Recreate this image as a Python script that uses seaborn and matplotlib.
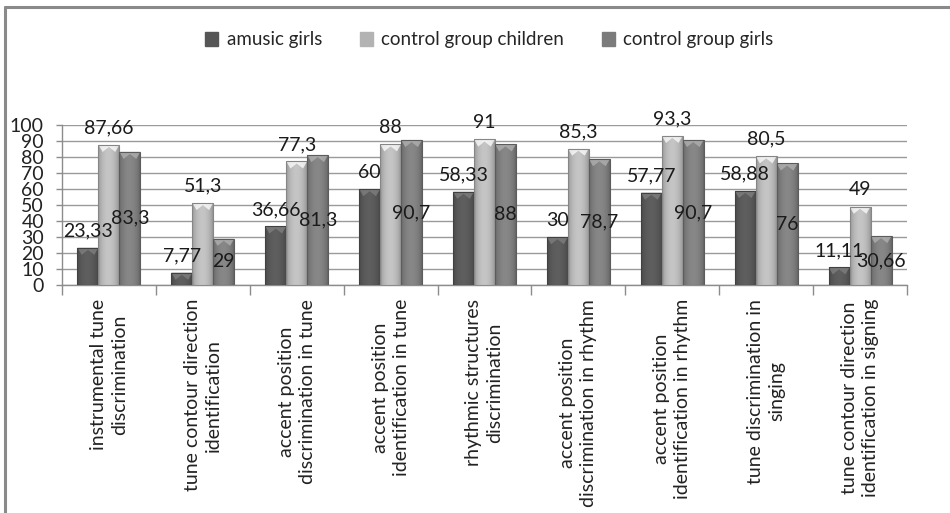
import numpy as np
import pandas as pd
import matplotlib
matplotlib.use("Agg")
import matplotlib.pyplot as plt
from matplotlib.lines import Line2D
from matplotlib.patches import Polygon, Patch
import matplotlib.colors as mcolors
import seaborn as sns

categories = [
    "instrumental tune\ndiscrimination",
    "tune contour direction\nidentification",
    "accent position\ndiscrimination in tune",
    "accent position\nidentification in tune",
    "rhythmic structures\ndiscrimination",
    "accent position\ndiscrimination in rhythm",
    "accent position\nidentification in rhythm",
    "tune discrimination in\nsinging",
    "tune contour direction\nidentification in signing",
]
series_names = ["amusic girls", "control group children", "control group girls"]
amusic_girls = [23.33, 7.77, 36.66, 60, 58.33, 30, 57.77, 58.88, 11.11]
control_children = [87.66, 51.3, 77.3, 88, 91, 85.3, 93.3, 80.5, 49]
control_girls = [83.3, 29, 81.3, 90.7, 88, 78.7, 90.7, 76, 30.66]
y_ticks = list(range(0, 101, 10))

colors = ["#565656", "#b3b3b3", "#7b7b7b"]

df = pd.DataFrame({
    "category": categories * 3,
    "series": [series_names[0]] * 9 + [series_names[1]] * 9 + [series_names[2]] * 9,
    "value": amusic_girls + control_children + control_girls,
})

sns.set_style("white")
plt.rcParams["font.family"] = ["Lato", "DejaVu Sans"]

fig = plt.figure(figsize=(9.5, 5.13), dpi=100)
ax = fig.add_axes([62 / 950, 1 - 285 / 513, 845 / 950, 160 / 513])

sns.barplot(data=df, x="category", y="value", hue="series", order=categories,
            hue_order=series_names, palette=colors, width=0.67, gap=0,
            saturation=1, ax=ax, legend=False, zorder=3, edgecolor="none")

ax.set_ylim(0, 100)
ax.set_xlim(-0.5, len(categories) - 0.5)
ax.set_yticks(y_ticks)
ax.set_yticklabels([str(t) for t in y_ticks], fontsize=14, color="#222222")
ax.yaxis.grid(True, color="#9a9a9a", lw=1.0, zorder=0)
ax.set_axisbelow(True)
ax.set_xlabel("")
ax.set_ylabel("")

for s in ["top", "right"]:
    ax.spines[s].set_visible(False)
for s in ["left", "bottom"]:
    ax.spines[s].set_color("#8c8c8c")
    ax.spines[s].set_linewidth(1.0)

ax.tick_params(axis="y", which="major", left=True, length=4, width=1,
               color="#8c8c8c", pad=9)
# x ticks on category boundaries, labels at centres
ax.set_xticks(np.arange(-0.5, len(categories), 1.0))
ax.set_xticklabels([])
ax.tick_params(axis="x", which="major", bottom=True, length=7, width=1,
               color="#8c8c8c")
for i, cat in enumerate(categories):
    ax.annotate(cat, xy=(i, 0), xycoords=("data", "data"),
                xytext=(0, -10), textcoords="offset points",
                rotation=90, ha="center", va="top", multialignment="center",
                fontsize=14, color="#222222", linespacing=1.3)

# shaded bevel effect on each bar
for cont, base in zip(ax.containers, colors):
    rgb = np.array(mcolors.to_rgb(base))
    for bar in cont:
        x0, y0 = bar.get_x(), bar.get_y()
        w, h = bar.get_width(), bar.get_height()
        t = np.linspace(0, 1, 64)
        shade = 0.80 + 0.30 * np.sin(np.pi * t) ** 0.6
        img = np.clip(rgb[None, None, :] * shade[None, :, None], 0, 1)
        im = ax.imshow(img, extent=[x0, x0 + w, y0, y0 + h], aspect="auto",
                       zorder=3.5, interpolation="bicubic")
        im.set_clip_path(bar)
        cap = min(4.5, h)
        light = np.clip(rgb * 1.35 + 0.05, 0, 1)
        ax.add_patch(Polygon([(x0, y0 + h), (x0 + w, y0 + h),
                              (x0 + w * 0.8, y0 + h - cap),
                              (x0 + w * 0.5, y0 + h - cap * 0.3),
                              (x0 + w * 0.2, y0 + h - cap)],
                             closed=True, facecolor=light, edgecolor="none",
                             zorder=3.6, alpha=0.75))
        ax.add_patch(Polygon([(x0, y0), (x0, y0 + h), (x0 + w, y0 + h), (x0 + w, y0)],
                             closed=True, facecolor="none",
                             edgecolor=np.clip(rgb * 0.75, 0, 1), lw=0.8,
                             zorder=3.7))


def fmt(v):
    return f"{v:g}".replace(".", ",")


label_kw = dict(fontsize=14, color="#1a1a1a", zorder=5)
ax.bar_label(ax.containers[0], labels=[fmt(v) for v in amusic_girls],
             label_type="edge", padding=6, **label_kw)
ax.bar_label(ax.containers[1], labels=[fmt(v) for v in control_children],
             label_type="edge", padding=6, **label_kw)
ax.bar_label(ax.containers[2], labels=[fmt(v) for v in control_girls],
             label_type="center", **label_kw)
for t in ax.texts:
    t.set_zorder(6)
    t.set_clip_on(False)

# legend
handles = [Patch(facecolor=c, edgecolor=mcolors.to_rgb(c)) for c in colors]
fig.legend(handles, series_names, loc="center", bbox_to_anchor=(0.515, 1 - 40 / 513),
           ncol=3, frameon=False, fontsize=13.5, handlelength=0.7,
           handleheight=0.7, handletextpad=0.45, columnspacing=2.0)

# chart area border (top and left edges visible)
fig.add_artist(Line2D([5 / 950, 1.0], [1 - 7 / 513, 1 - 7 / 513],
                      transform=fig.transFigure, color="#8a8a8a", lw=2.2))
fig.add_artist(Line2D([5 / 950, 5 / 950], [0, 1 - 7 / 513],
                      transform=fig.transFigure, color="#8a8a8a", lw=2.2))

fig.savefig("out.png", dpi=100)
